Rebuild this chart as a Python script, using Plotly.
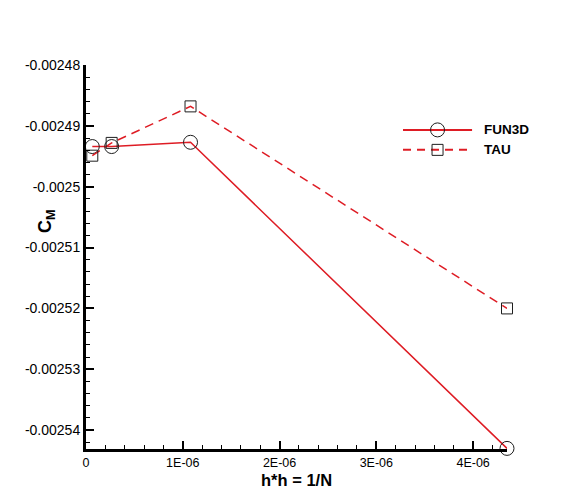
import plotly.graph_objects as go

# ---- data ----
h2 = [6.5e-8, 2.65e-7, 1.08e-6, 4.35e-6]
cm_fun3d = [-0.0024934, -0.0024934, -0.0024927, -0.0025430]
cm_tau = [-0.0024949, -0.0024928, -0.0024868, -0.0025200]
series_names = ["FUN3D", "TAU"]
x_tickvals = [0, 1e-6, 2e-6, 3e-6, 4e-6]
x_ticktext = ["0", "1E-06", "2E-06", "3E-06", "4E-06"]
y_tickvals = [-0.00248, -0.00249, -0.0025, -0.00251, -0.00252, -0.00253, -0.00254]
y_ticktext = ["-0.00248", "-0.00249", "-0.0025", "-0.00251", "-0.00252", "-0.00253", "-0.00254"]

RED = "rgb(222,28,36)"
MK = "rgb(30,30,30)"
FONT = "Liberation Sans, Arial, Helvetica, sans-serif"

fig = go.Figure()
fig.add_trace(go.Scatter(
    x=h2, y=cm_fun3d, mode="lines+markers", name=series_names[0],
    line=dict(color=RED, width=1.5),
    marker=dict(symbol="circle-open", size=14, color=MK, line=dict(width=1, color=MK)),
    cliponaxis=False, showlegend=False))
fig.add_trace(go.Scatter(
    x=h2, y=cm_tau, mode="lines+markers", name=series_names[1],
    line=dict(color=RED, width=1.5, dash="9px,6px"),
    marker=dict(symbol="square-open", size=11, color=MK, line=dict(width=1, color=MK)),
    cliponaxis=False, showlegend=False))

# custom legend on hidden overlay axes (domain fractions)
leg_y = [0.831, 0.779]
dashes = ["solid", "8px,6px"]
symbols = ["circle-open", "square-open"]
sizes = [14, 11]
for i in range(2):
    fig.add_trace(go.Scatter(
        x=[0.753, 0.917], y=[leg_y[i], leg_y[i]], mode="lines", xaxis="x2", yaxis="y2",
        line=dict(color=RED, width=2, dash=dashes[i]), showlegend=False, hoverinfo="skip"))
    fig.add_trace(go.Scatter(
        x=[0.835], y=[leg_y[i]], mode="markers", xaxis="x2", yaxis="y2",
        marker=dict(symbol=symbols[i], size=sizes[i], color=MK, line=dict(width=1, color=MK)),
        showlegend=False, hoverinfo="skip", cliponaxis=False))
    fig.add_annotation(x=0.941, y=leg_y[i], xref="x2", yref="y2", text="<b>%s</b>" % series_names[i],
                       showarrow=False, xanchor="left", yanchor="middle",
                       font=dict(family=FONT, size=13.5, color="black"))

# axis titles
fig.add_annotation(x=-0.0926, y=0.594, xref="paper", yref="paper",
                   text="<b>C<sub>M</sub></b>", textangle=-90, showarrow=False,
                   xanchor="center", yanchor="middle",
                   font=dict(family=FONT, size=18, color="black"))
fig.add_annotation(x=0.5, y=-0.0820, xref="paper", yref="paper",
                   text="<b>h*h = 1/N</b>", showarrow=False,
                   xanchor="center", yanchor="middle",
                   font=dict(family=FONT, size=16.5, color="black"))

fig.update_layout(
    width=572, height=503,
    margin=dict(l=86, r=65, t=65, b=54),
    paper_bgcolor="white", plot_bgcolor="white",
    font=dict(family=FONT, size=14, color="black"),
    showlegend=False,
    xaxis=dict(range=[0, 4.35e-6], showgrid=False, zeroline=False,
               showline=True, linewidth=3, linecolor="black",
               tickmode="array", tickvals=x_tickvals, ticktext=x_ticktext,
               tickfont=dict(size=12.5),
               ticks="inside", ticklen=8, tickwidth=2, tickcolor="black",
               minor=dict(tickmode="linear", tick0=0, dtick=2e-7, ticks="inside",
                          ticklen=4, tickwidth=1, tickcolor="black", showgrid=False)),
    yaxis=dict(range=[-0.0025431, -0.00248], showgrid=False, zeroline=False,
               showline=True, linewidth=3, linecolor="black",
               tickmode="array", tickvals=y_tickvals, ticktext=y_ticktext,
               ticks="inside", ticklen=8, tickwidth=2, tickcolor="black",
               minor=dict(tickmode="linear", tick0=-0.00248, dtick=2e-6, ticks="inside",
                          ticklen=4, tickwidth=1, tickcolor="black", showgrid=False)),
    xaxis2=dict(overlaying="x", range=[0, 1], visible=False),
    yaxis2=dict(overlaying="y", range=[0, 1], visible=False),
)

fig.write_html("out.html", config={"displayModeBar": False},
               post_script="document.body.style.margin='0';")
